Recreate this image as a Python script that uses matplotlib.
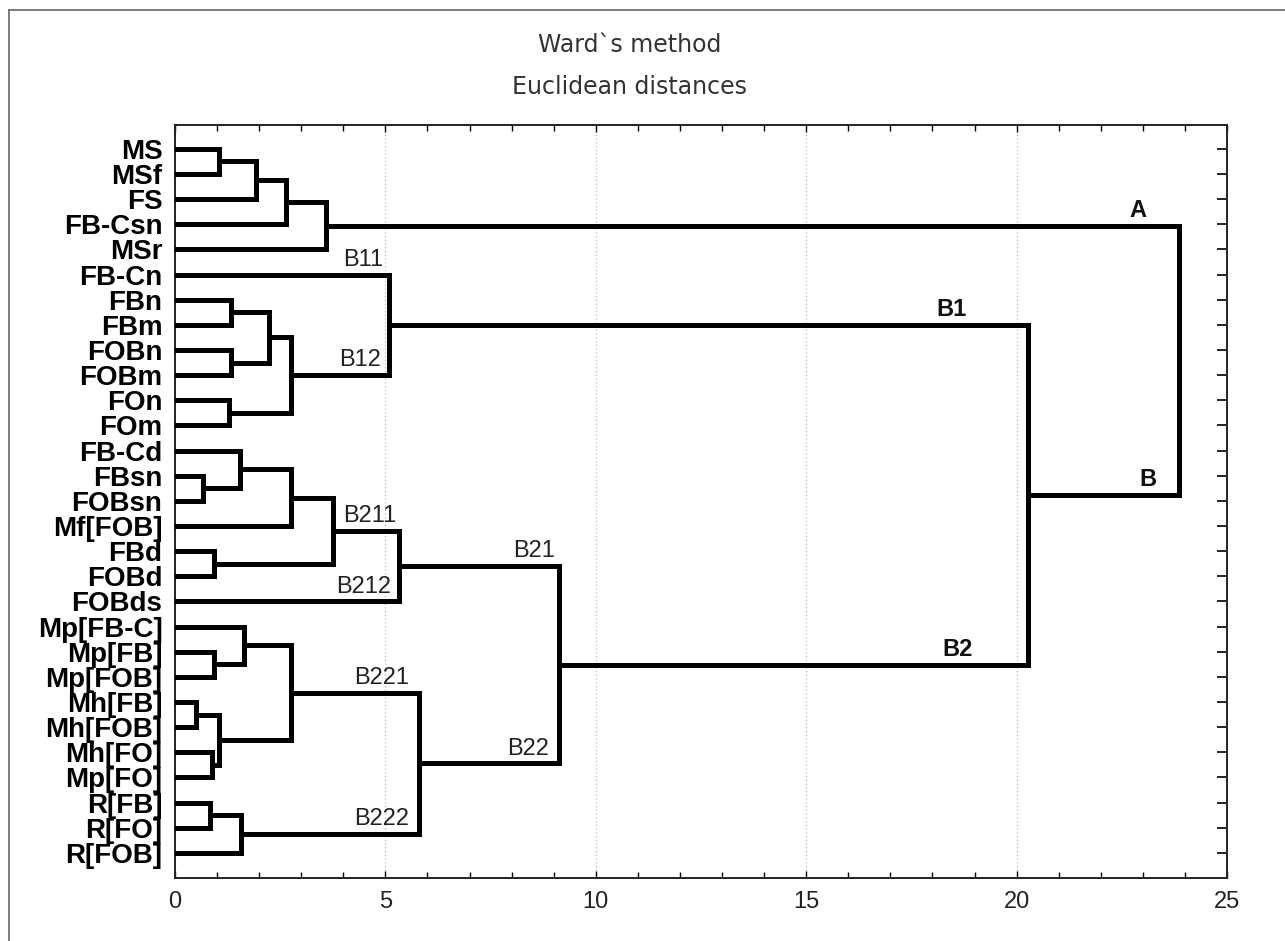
import matplotlib
matplotlib.use("Agg")
import matplotlib.pyplot as plt
from matplotlib.lines import Line2D

# leaves in display order (top to bottom)
leaves = ["MS", "MSf", "FS", "FB-Csn", "MSr", "FB-Cn", "FBn", "FBm", "FOBn",
          "FOBm", "FOn", "FOm", "FB-Cd", "FBsn", "FOBsn", "Mf[FOB]", "FBd",
          "FOBd", "FOBds", "Mp[FB-C]", "Mp[FB]", "Mp[FOB]", "Mh[FB]",
          "Mh[FOB]", "Mh[FO]", "Mp[FO]", "R[FB]", "R[FO]", "R[FOB]"]

# linkage rows (scipy style): child a, child b, linkage distance
# new cluster ids start at len(leaves) = 29
link_a = [0, 29, 30, 31, 6, 8, 33, 10, 35, 5, 13, 12, 40, 16, 41, 43,
          20, 19, 22, 24, 47, 46, 26, 51, 50, 44, 38, 32]
link_b = [1, 2, 3, 4, 7, 9, 34, 11, 36, 37, 14, 39, 15, 17, 42, 18,
          21, 45, 23, 25, 48, 49, 27, 28, 52, 53, 54, 55]
link_h = [1.05, 1.92, 2.64, 3.59, 1.33, 1.33, 2.24, 1.29, 2.75, 5.08,
          0.66, 1.55, 2.75, 0.93, 3.75, 5.33, 0.93, 1.63, 0.50, 0.87,
          1.05, 2.75, 0.82, 1.57, 5.80, 9.12, 20.26, 23.85]

# branch names: (node id, text, shift left of the joint, bold)
branch_names = [(32, "A", 0.76, True), (55, "B", 0.52, True),
                (38, "B1", 1.45, True), (54, "B2", 1.31, True),
                (5, "B11", 0.12, False), (37, "B12", 0.19, False),
                (44, "B21", 0.10, False), (53, "B22", 0.24, False),
                (43, "B211", 0.07, False), (18, "B212", 0.20, False),
                (50, "B221", 0.24, False), (52, "B222", 0.24, False)]

parent_h = {}

n = len(leaves)
pos_y = {i: i + 1.0 for i in range(n)}
pos_x = {i: 0.0 for i in range(n)}

fig = plt.figure(figsize=(12.85, 9.41), dpi=100)
ax = fig.add_axes([175 / 1285, 63 / 941, 1052 / 1285, 753 / 941])

for k, (a, b, h) in enumerate(zip(link_a, link_b, link_h)):
    node = n + k
    ax.plot([pos_x[a], h, h, pos_x[b]], [pos_y[a], pos_y[a], pos_y[b], pos_y[b]],
            color="black", lw=3.6, solid_joinstyle="miter",
            solid_capstyle="projecting", zorder=3)
    pos_x[node] = h
    pos_y[node] = (pos_y[a] + pos_y[b]) / 2
    parent_h[a] = h
    parent_h[b] = h

for node, txt, dx, bold in branch_names:
    ax.text(parent_h[node] - dx, pos_y[node] - 0.15, txt,
            ha="right", va="bottom", family="Liberation Sans",
            fontsize=17,
            fontweight="bold" if bold else "normal",
            color="#111" if bold else "#222", zorder=4)

ax.set_xlim(0, 25)
ax.set_ylim(30, 0.05)
ax.set_xticks([0, 5, 10, 15, 20, 25])
ax.set_xticks(range(0, 26), minor=True)
ax.set_yticks([pos_y[i] for i in range(n)])
ax.set_yticklabels(leaves, family="Liberation Sans", fontweight="bold",
                   fontsize=20, color="black")
ax.tick_params(axis="y", left=False, right=True, direction="in",
               length=7, width=1.2, pad=9)
ax.tick_params(axis="x", which="both", top=True, bottom=True,
               direction="in", width=1.0, pad=9, labelsize=17,
               labelcolor="#222")
ax.tick_params(axis="x", which="major", length=5)
ax.tick_params(axis="x", which="minor", length=4)
for lab in ax.get_xticklabels():
    lab.set_family("Liberation Sans")

for v in [5, 10, 15, 20]:
    ax.axvline(v, color="#b8b8b8", lw=0.9, ls=(0, (1, 2)), zorder=1)

for sp in ax.spines.values():
    sp.set_linewidth(1.4)
    sp.set_color("#222")

fig.text(0.49, 1 - 45 / 941, "Ward`s method", ha="center", va="center",
         fontsize=17, color="#333", family="DejaVu Sans")
fig.text(0.49, 1 - 87 / 941, "Euclidean distances", ha="center", va="center",
         fontsize=17, color="#333", family="DejaVu Sans")

# thin frame around the picture (only left and top show)
x0 = 8.5 / 1285
y0 = 1 - 10 / 941
fig.add_artist(Line2D([x0, x0], [0, y0], color="#666", lw=1.2))
fig.add_artist(Line2D([x0, 1], [y0, y0], color="#666", lw=1.2))

fig.savefig("out.png", dpi=100, facecolor="white")
